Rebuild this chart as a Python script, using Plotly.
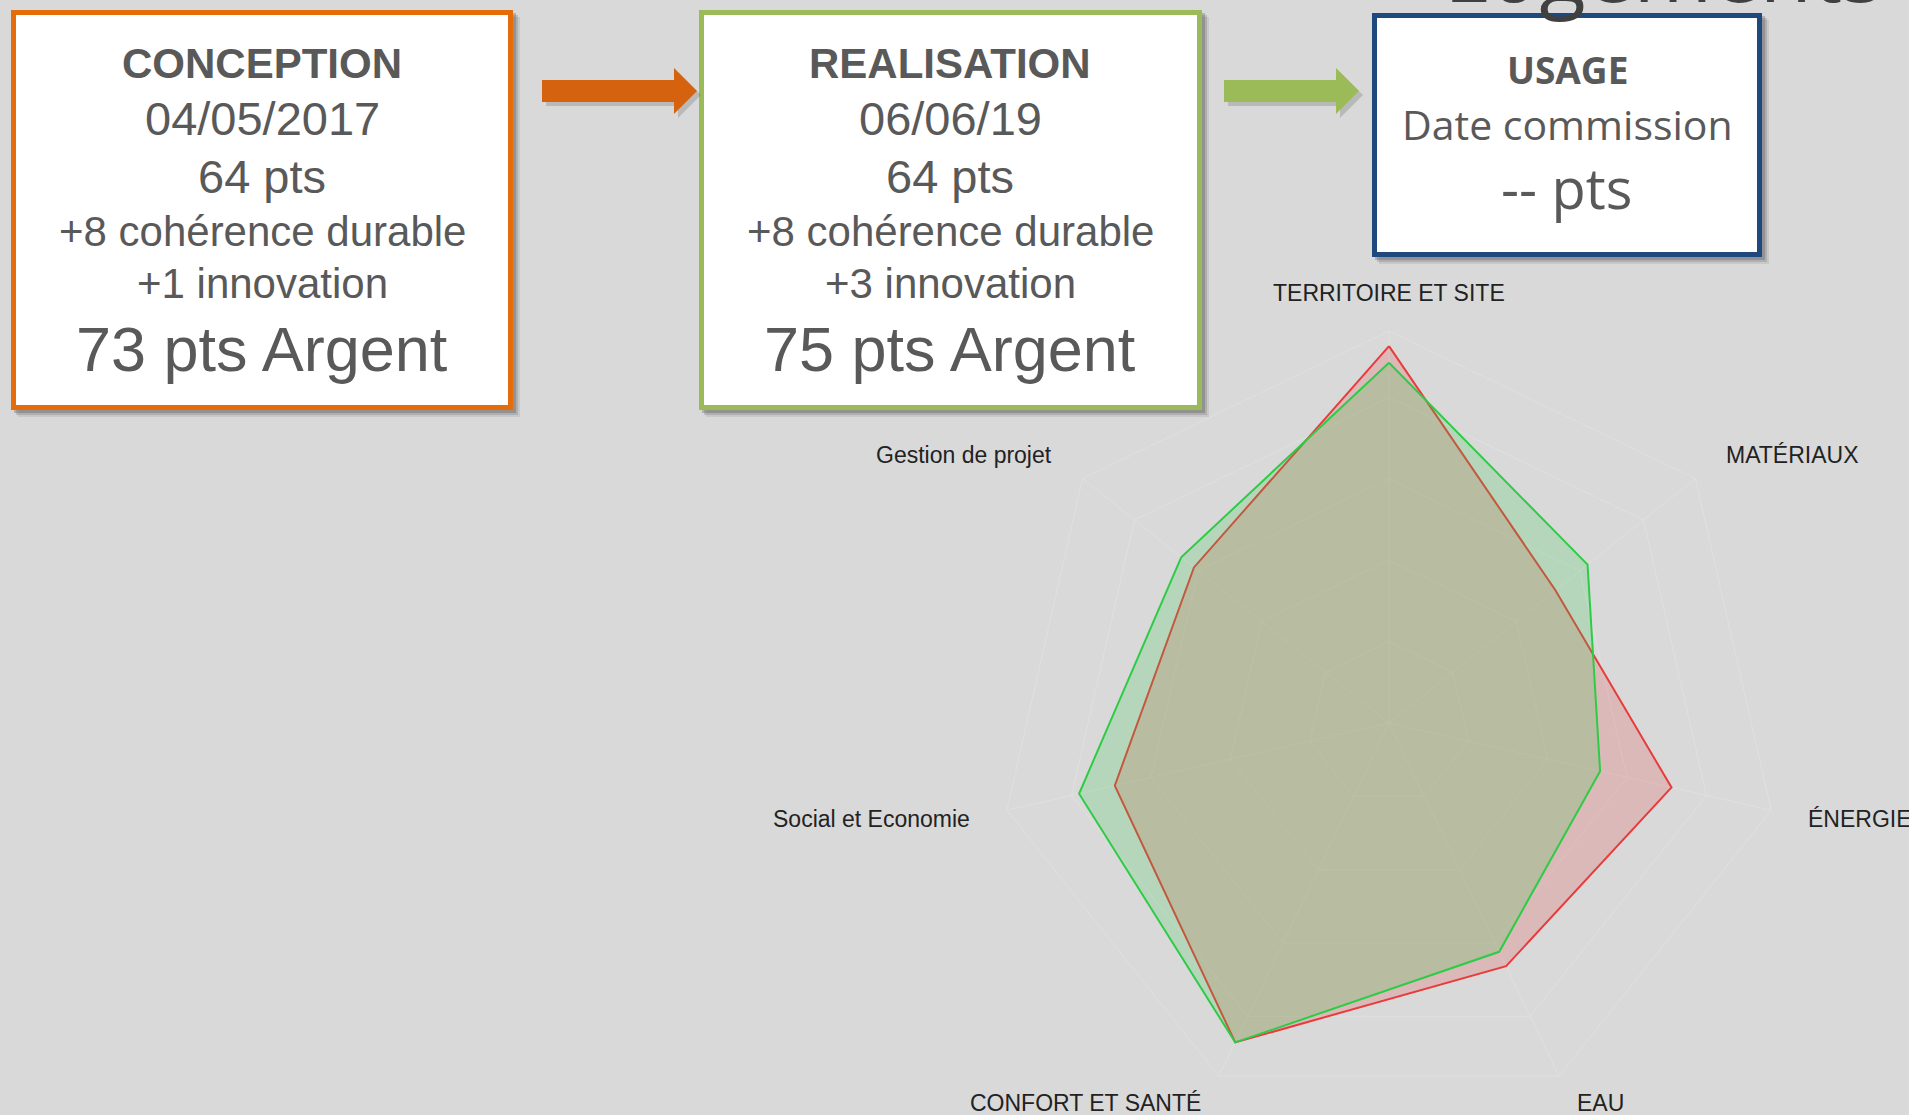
import math
import plotly.graph_objects as go

# ---- figure size (px) ----
W, H = 1909, 1115

# ---- radar data ----
categories = ["TERRITOIRE ET SITE", "MATÉRIAUX", "ÉNERGIE", "EAU",
              "CONFORT ET SANTÉ", "Social et Economie", "Gestion de projet"]
scores_red = [92.6, 52.3, 71.2, 66.3, 87.1, 69.1, 61.3]
scores_green = [88.5, 62.4, 53.2, 62.4, 87.1, 78.1, 65.3]
grid_levels = [20, 40, 60, 80, 100]

# ---- phase boxes ----
phase_titles = ["CONCEPTION", "REALISATION", "USAGE"]
phase_dates = ["04/05/2017", "06/06/19", "Date commission"]
phase_points = ["64 pts", "64 pts", "-- pts"]
phase_coherence = ["+8 cohérence durable", "+8 cohérence durable"]
phase_innovation = ["+1 innovation", "+3 innovation"]
phase_totals = ["73 pts Argent", "75 pts Argent"]
page_title = "Logements"

TXT = "#595959"
BG = "#d9d9d9"
ARIAL = "Liberation Sans, Arial, sans-serif"
CALIBRI = "Open Sans, Calibri, sans-serif"


def px(x):
    return x / W


def py(y):
    return 1 - y / H


# radar geometry (pixels)
CX, CY, R_FULL = 1389, 723, 407
R_FIT = H - CY                      # polar must stay inside paper
r_max = 100 * R_FIT / R_FULL

fig = go.Figure()

cats_closed = categories + categories[:1]
fig.add_trace(go.Scatterpolar(
    r=scores_red + scores_red[:1], theta=cats_closed,
    mode="lines", fill="toself", name="Conception",
    line=dict(color="#e83c3c", width=2),
    fillcolor="rgba(230,60,60,0.2)"))
fig.add_trace(go.Scatterpolar(
    r=scores_green + scores_green[:1], theta=cats_closed,
    mode="lines", fill="toself", name="Réalisation",
    line=dict(color="#2ecc46", width=2),
    fillcolor="rgba(46,204,70,0.2)"))

grid_col = "rgba(255,255,255,0.18)"
fig.update_layout(
    polar=dict(
        domain=dict(x=[px(CX - R_FIT), px(CX + R_FIT)], y=[0, py(CY - R_FIT)]),
        bgcolor="rgba(0,0,0,0)",
        gridshape="linear",
        radialaxis=dict(range=[0, r_max], tickvals=grid_levels[:-1],
                        showticklabels=False, ticks="", showline=False,
                        gridcolor=grid_col, gridwidth=1),
        angularaxis=dict(rotation=90, direction="clockwise",
                         showticklabels=False, ticks="",
                         linecolor=grid_col, gridcolor=grid_col),
    )
)

# ---- axis labels around the radar ----
annotations = []
n = len(categories)
for i, lab in enumerate(categories):
    a = math.radians(i * 360 / n)
    lx = CX + 428 * math.sin(a)
    ly = CY - 430 * math.cos(a)
    s = math.sin(a)
    xa = "left" if s > 0.1 else ("right" if s < -0.1 else "center")
    ysh = 7 if math.cos(a) < -0.5 else 0
    annotations.append(dict(x=px(lx), y=py(ly), text=lab, showarrow=False,
                            xanchor=xa, yanchor="middle", yshift=ysh,
                            font=dict(family=ARIAL, size=23, color="#222222")))

# ---- boxes, shadows and arrows ----
shapes = []
boxes = [(11, 10, 513, 410, "#e46c0a"),
         (699, 10, 1202, 410, "#9bbb59"),
         (1372, 13, 1762, 257, "#1f497d")]
for x0, y0, x1, y1, col in boxes:
    for off, op in [(7, 0.10), (5, 0.18), (3, 0.25)]:
        shapes.append(dict(type="rect", xref="paper", yref="paper",
                           x0=px(x0 + off), x1=px(x1 + off),
                           y0=py(y0 + off), y1=py(y1 + off),
                           line=dict(width=0), fillcolor=f"rgba(60,60,60,{op})"))
    shapes.append(dict(type="rect", xref="paper", yref="paper",
                       x0=px(x0 + 2.5), x1=px(x1 - 2.5),
                       y0=py(y0 + 2.5), y1=py(y1 - 2.5),
                       line=dict(color=col, width=5), fillcolor="white"))


def arrow(x0, x1, head_x, col):
    pts = [(x0, 80), (head_x, 80), (head_x, 68), (x1, 91), (head_x, 114),
           (head_x, 102), (x0, 102)]
    path = "M " + " L ".join(f"{px(x)},{py(y)}" for x, y in pts) + " Z"
    shp = []
    sh_pts = [(x + 4, y + 4) for x, y in pts]
    shp.append(dict(type="path", xref="paper", yref="paper",
                    path="M " + " L ".join(f"{px(x)},{py(y)}" for x, y in sh_pts) + " Z",
                    line=dict(width=0), fillcolor="rgba(60,60,60,0.2)"))
    shp.append(dict(type="path", xref="paper", yref="paper", path=path,
                    line=dict(width=0), fillcolor=col))
    return shp


shapes += arrow(542, 697, 674, "#d4620f")
shapes += arrow(1224, 1359, 1336, "#9bbb59")

# ---- box texts ----
def txt(x, y, text, size, family=ARIAL, bold=False):
    if bold:
        text = f"<b>{text}</b>"
    annotations.append(dict(x=px(x), y=py(y), text=text, showarrow=False,
                            xanchor="center", yanchor="middle",
                            font=dict(family=family, size=size, color=TXT)))


for bx, k in [(262, 0), (950, 1)]:
    txt(bx, 64, phase_titles[k], 42, bold=True)
    txt(bx, 118, phase_dates[k], 47)
    txt(bx, 177, phase_points[k], 47)
    txt(bx, 231, phase_coherence[k], 42)
    txt(bx, 283, phase_innovation[k], 42)
    txt(bx, 349, phase_totals[k], 63)

txt(1567, 70, phase_titles[2], 37, family=CALIBRI, bold=True)
txt(1567, 124, phase_dates[2], 41, family=CALIBRI)
txt(1567, 187, phase_points[2], 56, family=CALIBRI)

# big page title, almost entirely above the top edge
annotations.append(dict(x=px(1885), y=py(-31), text=page_title, showarrow=False,
                        xanchor="right", yanchor="middle",
                        font=dict(family=CALIBRI, size=85, color="#404040")))

fig.update_layout(
    width=W, height=H,
    margin=dict(l=0, r=0, t=0, b=0),
    paper_bgcolor=BG,
    plot_bgcolor=BG,
    showlegend=False,
    shapes=shapes,
    annotations=annotations,
)

fig.write_html("out.html", config={"displayModeBar": False},
               post_script="document.body.style.margin='0';"
                           "document.body.style.overflow='hidden';")
